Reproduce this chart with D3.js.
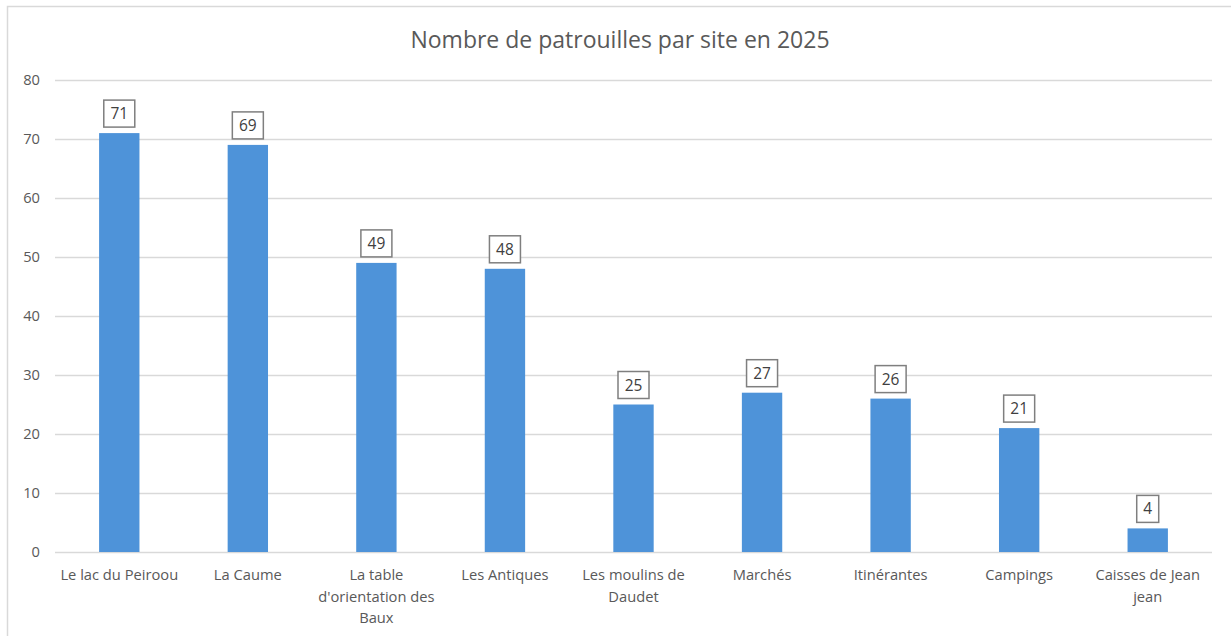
<!DOCTYPE html>
<html><head><meta charset="utf-8">
<script src="https://cdn.jsdelivr.net/npm/d3@7"></script>
<style>
html,body{margin:0;padding:0;background:#fff;overflow:hidden;}
text{font-family:"Open Sans","Noto Sans",sans-serif;}
</style></head>
<body>
<svg id="chart" width="1231" height="636"></svg>
<script>
const categories = ["Le lac du Peiroou","La Caume","La table d'orientation des Baux","Les Antiques","Les moulins de Daudet","Marchés","Itinérantes","Campings","Caisses de Jean jean"];
const values = [71,69,49,48,25,27,26,21,4];
const yTicks = [0,10,20,30,40,50,60,70,80];
const title = "Nombre de patrouilles par site en 2025";

const svg = d3.select("#chart");
const W = 1231, H = 636;
const margin = {left:55, right:19, top:80, bottom:84};

svg.append("rect").attr("x",7.5).attr("y",6.5).attr("width",1240).attr("height",640)
  .attr("fill","#fff").attr("stroke","#d9d9d9").attr("stroke-width",1.5);

const x = d3.scaleBand().domain(categories).range([margin.left, W - margin.right]).paddingInner(0.686).paddingOuter(0.343);
const y = d3.scaleLinear().domain([0,80]).range([H - margin.bottom, margin.top]);

// gridlines
svg.append("g").selectAll("line").data(yTicks).join("line")
  .attr("x1", margin.left).attr("x2", W - margin.right)
  .attr("y1", d => Math.round(y(d))+0.5).attr("y2", d => Math.round(y(d))+0.5)
  .attr("stroke","#d9d9d9").attr("stroke-width",1.3);

// y axis labels
const yAxis = d3.axisLeft(y).tickValues(yTicks).tickSize(0).tickPadding(0);
const ga = svg.append("g").attr("transform", `translate(${margin.left-15},0)`).call(yAxis);
ga.select(".domain").remove();
ga.selectAll("text").attr("fill","#595959").style("font-size","14.7px")
  .style("font-family",'"Open Sans","Noto Sans",sans-serif');

// bars
svg.append("g").selectAll("rect").data(values).join("rect")
  .attr("x",(d,i)=>x(categories[i])).attr("width",x.bandwidth())
  .attr("y",d=>y(d)).attr("height",d=>y(0)-y(d)).attr("fill","#4e93d9");

// data labels with boxes
const lg = svg.append("g");
values.forEach((v,i)=>{
  const cx = x(categories[i]) + x.bandwidth()/2;
  const bh = 27, bw = String(v).length === 1 ? 22 : 31;
  const by = y(v) - 6 - bh;
  lg.append("rect").attr("x",cx-bw/2).attr("y",by).attr("width",bw).attr("height",bh)
    .attr("fill","#fff").attr("stroke","#7f7f7f").attr("stroke-width",1.5);
  lg.append("text").attr("x",cx).attr("y",by+bh/2).attr("dy","0.36em")
    .attr("text-anchor","middle").attr("fill","#404040").style("font-size","15.5px").text(v);
});

// category labels with wrapping
const cg = svg.append("g");
categories.forEach((c,i)=>{
  const cx = x(c) + x.bandwidth()/2;
  const t = cg.append("text").attr("x",cx).attr("y",y(0)+28).attr("text-anchor","middle")
    .attr("fill","#595959").style("font-size","14.7px");
  const words = c.split(" ");
  let lines = [], cur = [];
  const maxW = 125;
  const tmp = t.append("tspan");
  words.forEach(w=>{
    const test = cur.concat([w]).join(" ");
    tmp.text(test);
    if (tmp.node().getComputedTextLength() > maxW && cur.length){ lines.push(cur.join(" ")); cur=[w]; }
    else cur.push(w);
  });
  lines.push(cur.join(" "));
  tmp.remove();
  lines.forEach((l,k)=>{
    t.append("tspan").attr("x",cx).attr("dy", k===0?0:21.5).text(l);
  });
});

// title
svg.append("text").attr("x",620).attr("y",48).attr("text-anchor","middle")
  .attr("fill","#595959").style("font-size","23px").text(title);
</script>
</body></html>
